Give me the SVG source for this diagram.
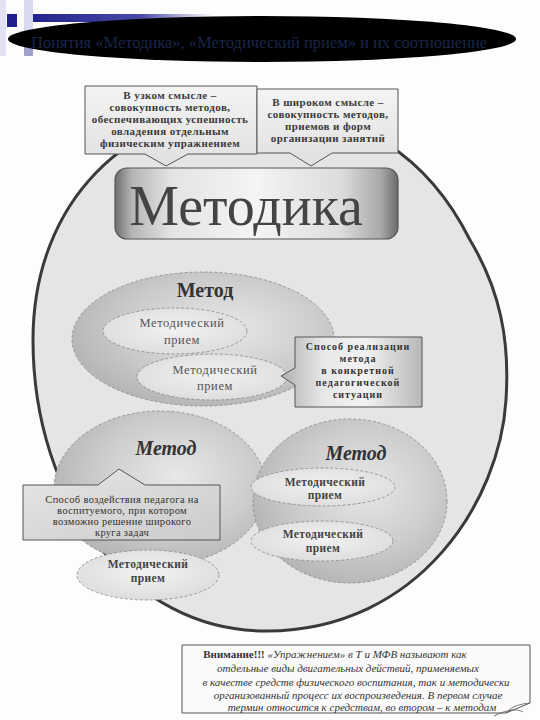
<svg xmlns="http://www.w3.org/2000/svg" width="540" height="720" viewBox="0 0 540 720">
<defs>
  <linearGradient id="gMetal" x1="0" y1="0" x2="1" y2="0">
    <stop offset="0" stop-color="#6e6e6e"/>
    <stop offset="0.06" stop-color="#b5b5b5"/>
    <stop offset="0.2" stop-color="#e4e4e4"/>
    <stop offset="0.5" stop-color="#f4f4f4"/>
    <stop offset="0.8" stop-color="#dcdcdc"/>
    <stop offset="0.94" stop-color="#a8a8a8"/>
    <stop offset="1" stop-color="#6a6a6a"/>
  </linearGradient>
  <linearGradient id="gCall" x1="0" y1="0" x2="1" y2="0">
    <stop offset="0" stop-color="#b0b0b0"/>
    <stop offset="0.3" stop-color="#e8e8e8"/>
    <stop offset="0.6" stop-color="#f2f2f2"/>
    <stop offset="1" stop-color="#b8b8b8"/>
  </linearGradient>
  <linearGradient id="gBox" x1="0" y1="0" x2="0" y2="1">
    <stop offset="0" stop-color="#f4f4f4"/>
    <stop offset="1" stop-color="#e0e0e0"/>
  </linearGradient>
  <linearGradient id="gBox2" x1="0" y1="0" x2="1" y2="1">
    <stop offset="0" stop-color="#e6e6e6"/>
    <stop offset="1" stop-color="#cbcbcb"/>
  </linearGradient>
  <radialGradient id="gMethod" cx="0.58" cy="0.42" r="0.6">
    <stop offset="0" stop-color="#e8e8e8"/>
    <stop offset="0.6" stop-color="#cdcdcd"/>
    <stop offset="1" stop-color="#b6b6b6"/>
  </radialGradient>
  <radialGradient id="gInner" cx="0.5" cy="0.45" r="0.6">
    <stop offset="0" stop-color="#f2f2f2"/>
    <stop offset="1" stop-color="#dcdcdc"/>
  </radialGradient>
  <linearGradient id="gBlue" x1="0" y1="0" x2="1" y2="0">
    <stop offset="0" stop-color="#23238e"/>
    <stop offset="0.6" stop-color="#4a4aa8"/>
    <stop offset="1" stop-color="#4a4aa8" stop-opacity="0"/>
  </linearGradient>
  <style>
    text { font-family: "Liberation Serif", "DejaVu Serif", serif; }
    .t { fill: #333; text-anchor: middle; }
    .box { font-size: 11px; font-weight: bold; letter-spacing: 0.4px; fill: #3a3a3a; }
    .lbl { font-size: 20px; font-weight: bold; fill: #333; }
    .it { font-style: italic; }
    .pr { font-size: 12.5px; letter-spacing: 0.6px; fill: #555; }
    .prb { font-size: 11.5px; font-weight: bold; letter-spacing: 0.4px; fill: #444; }
    .call { font-size: 10px; font-weight: bold; letter-spacing: 1px; fill: #333; }
    .call2 { font-size: 10.5px; letter-spacing: 0.3px; fill: #333; }
    .note { font-size: 11px; font-style: italic; fill: #333; text-anchor: middle; }
    .shape { stroke: #555; stroke-width: 1; }
    .ell { stroke: #888; stroke-width: 0.8; stroke-dasharray: 3 2; }
  </style>
</defs>

<rect width="540" height="720" fill="#fdfdfd"/>

<g id="decor">
  <rect x="0" y="0" width="6" height="56" fill="#e2e2f2"/>
  <rect x="7" y="14" width="10" height="13" fill="#1f1f8f"/>
  <rect x="24" y="0" width="9" height="42" fill="#dadaef"/>
  <rect x="24" y="42" width="9" height="14" fill="#a0a0cc"/>
  <rect x="33" y="14" width="180" height="8" fill="url(#gBlue)"/>
</g>

<g id="title">
  <ellipse cx="262" cy="39" rx="254" ry="23" fill="#000"/>
  <text class="t" x="259" y="48" style="font-size:16.5px; fill:#18264a">Понятия «Методика», «Методический прием» и их соотношение</text>
</g>

<g id="container">
  <path d="M33,340 C33,200 130,110 250,108 C360,106 430,160 470,240 C500,290 510,340 506,400 C500,500 420,630 267,631 C130,632 33,500 33,340 Z" fill="#e5e5e6" stroke="#3a3a3a" stroke-width="3"/>
</g>

<g id="connectors"></g>

<g id="narrow">
  <path class="shape" d="M85,86 H257 V154 H188 L166,166 L145,154 H85 Z" fill="url(#gBox)"/>
  <text class="t box" x="170" y="99">В узком смысле –</text>
  <text class="t box" x="170" y="111">совокупность методов,</text>
  <text class="t box" x="170" y="123">обеспечивающих успешность</text>
  <text class="t box" x="170" y="135">овладения отдельным</text>
  <text class="t box" x="170" y="147">физическим упражнением</text>
</g>
<g id="wide">
  <path class="shape" d="M257,89 H398 V153 H332 L311,166 L290,153 H257 Z" fill="url(#gBox)"/>
  <text class="t box" x="328" y="106">В широком смысле –</text>
  <text class="t box" x="328" y="118">совокупность методов,</text>
  <text class="t box" x="328" y="130">приемов и форм</text>
  <text class="t box" x="328" y="142">организации занятий</text>
</g>

<g id="metodika">
  <rect x="115" y="168" width="283" height="71" rx="12" fill="url(#gMetal)" stroke="#555" stroke-width="1.2"/>
  <text class="t" x="246" y="225" style="font-size:56px; fill:#444">Методика</text>
</g>

<g id="method1">
  <ellipse class="ell" cx="203" cy="339" rx="131" ry="67" fill="url(#gMethod)"/>
  <text class="t lbl" x="205" y="297">Метод</text>
</g>
<g id="priem1">
  <ellipse class="ell" cx="175" cy="331" rx="72" ry="23" fill="url(#gInner)"/>
  <text class="t pr" x="182" y="327">Методический</text>
  <text class="t pr" x="182" y="344">прием</text>
</g>
<g id="priem2">
  <ellipse class="ell" cx="212" cy="377" rx="75" ry="23" fill="url(#gInner)"/>
  <text class="t pr" x="215" y="374">Методический</text>
  <text class="t pr" x="215" y="390">прием</text>
</g>
<g id="realization">
  <path class="shape" d="M295,337 H422 V407 H295 V385 L281,376 L295,368 Z" fill="url(#gCall)"/>
  <text class="t call" x="358" y="350">Способ реализации</text>
  <text class="t call" x="358" y="362">метода</text>
  <text class="t call" x="358" y="374">в конкретной</text>
  <text class="t call" x="358" y="386">педагогической</text>
  <text class="t call" x="358" y="398">ситуации</text>
</g>

<g id="method2">
  <ellipse class="ell" cx="160" cy="488" rx="106" ry="77" fill="url(#gMethod)"/>
  <text class="t lbl it" x="166" y="455">Метод</text>
</g>

<g id="method3">
  <ellipse class="ell" cx="350" cy="501" rx="97" ry="82" fill="url(#gMethod)"/>
  <text class="t lbl it" x="356" y="460">Метод</text>
</g>
<g id="priem3">
  <ellipse class="ell" cx="323" cy="487" rx="72" ry="19" fill="url(#gInner)"/>
  <text class="t prb" x="325" y="486">Методический</text>
  <text class="t prb" x="325" y="499">прием</text>
</g>
<g id="priem4">
  <ellipse class="ell" cx="322" cy="541" rx="71" ry="20" fill="url(#gInner)"/>
  <text class="t prb" x="323" y="538">Методический</text>
  <text class="t prb" x="323" y="552">прием</text>
</g>

<g id="influence">
  <path class="shape" d="M23,485 H98 L119,469 L145,485 H220 V540 H23 Z" fill="url(#gBox2)"/>
  <text class="t call2" x="122" y="503">Способ воздействия педагога на</text>
  <text class="t call2" x="122" y="514">воспитуемого, при котором</text>
  <text class="t call2" x="122" y="525">возможно решение широкого</text>
  <text class="t call2" x="122" y="536">круга задач</text>
</g>

<g id="priem5">
  <ellipse class="ell" cx="148" cy="575" rx="71" ry="25" fill="url(#gInner)"/>
  <text class="t prb" x="148" y="568">Методический</text>
  <text class="t prb" x="148" y="582">прием</text>
</g>

<g id="note">
  <path d="M182,645 H530 V703 L506,713 H182 Z" fill="#fafafa" stroke="#555" stroke-width="1"/>
  <path d="M506,713 C512,706 520,704 530,703 M494,716 C506,710 517,708 523,712" fill="none" stroke="#555" stroke-width="0.8"/>
  <text class="t note" x="335" y="658"><tspan style="font-style:normal; font-weight:bold">Внимание!!!</tspan> «Упражнением» в Т и МФВ называют как</text>
  <text class="t note" x="348" y="672">отдельные виды двигательных действий, применяемых</text>
  <text class="t note" x="356" y="686">в качестве средств физического воспитания, так и методически</text>
  <text class="t note" x="358" y="699">организованный процесс их воспроизведения. В первом случае</text>
  <text class="t note" x="362" y="711">термин относится к средствам, во втором – к методам</text>
</g>
</svg>
